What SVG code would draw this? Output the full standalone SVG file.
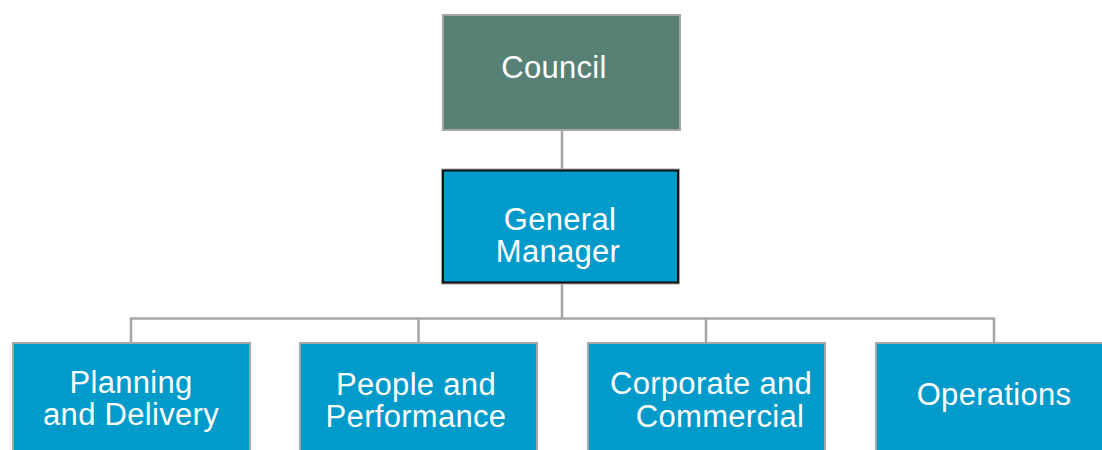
<svg xmlns="http://www.w3.org/2000/svg" width="1102" height="450" viewBox="0 0 1102 450">
<style>
.box{stroke:#a6a6a6;stroke-width:2}
.blue{fill:#009ACB}
.t{font-family:"Liberation Sans",Arial,sans-serif;font-size:31px;letter-spacing:0.3px;fill:#ffffff;text-anchor:middle}
.c{stroke:#a6a6a6;stroke-width:2.5;fill:none}
</style>
<rect width="1102" height="450" fill="#ffffff"/>
<g id="connectors">
<line class="c" x1="562" y1="131" x2="562" y2="169"/>
<line class="c" x1="562" y1="284" x2="562" y2="318.5"/>
<polyline class="c" points="131,342 131,318.5 994,318.5 994,342"/>
<line class="c" x1="418.5" y1="318.5" x2="418.5" y2="342"/>
<line class="c" x1="706" y1="318.5" x2="706" y2="342"/>
</g>
<g id="council">
<rect class="box" x="443" y="15" width="237" height="115" fill="#578175"/>
<text class="t" x="554" y="78">Council</text>
</g>
<g id="general-manager">
<rect x="441" y="168.5" width="239" height="116" fill="#a6a6a6"/>
<rect x="443" y="170.5" width="235" height="112" class="blue" stroke="#111111" stroke-width="2"/>
<text class="t" x="560" y="230">General</text>
<text class="t" x="558" y="262">Manager</text>
</g>
<g id="planning">
<rect class="box blue" x="13" y="343" width="237" height="115"/>
<text class="t" x="131" y="393">Planning</text>
<text class="t" x="131" y="425">and Delivery</text>
</g>
<g id="people">
<rect class="box blue" x="300" y="343" width="237" height="115"/>
<text class="t" x="416" y="395">People and</text>
<text class="t" x="416" y="427">Performance</text>
</g>
<g id="corporate">
<rect class="box blue" x="588" y="343" width="237" height="115"/>
<text class="t" x="711" y="394">Corporate and</text>
<text class="t" x="720" y="427">Commercial</text>
</g>
<g id="operations">
<rect class="box blue" x="876" y="343" width="237" height="115"/>
<text class="t" x="994" y="405">Operations</text>
</g>
</svg>
